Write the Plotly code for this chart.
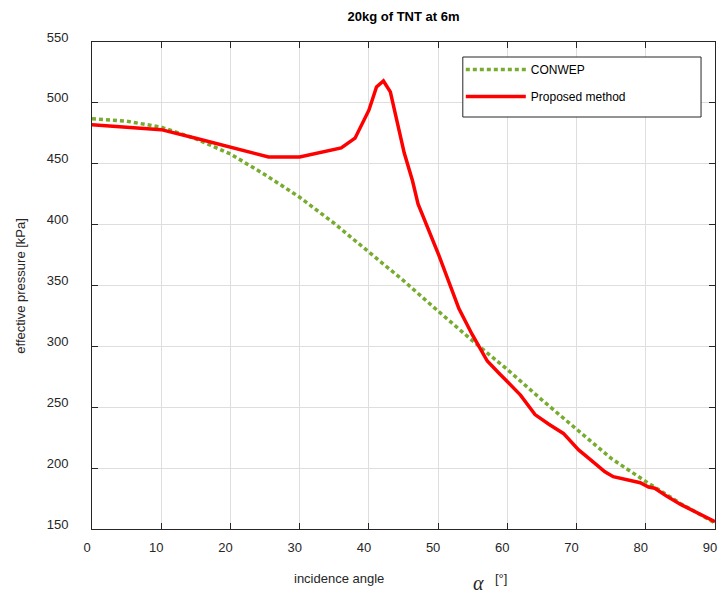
import plotly.graph_objects as go

# CONWEP reference curve
conwep_angle = [0, 5, 10, 15, 20, 25, 30, 35, 40, 45, 50, 55, 60, 65, 70, 75, 80, 85, 90]
conwep_pressure = [487, 485, 480, 470.5, 458, 441, 422.5, 401, 377.5, 354, 329, 304.5,
                   281, 256, 232, 208, 189, 171, 155]

# Proposed method curve
prop_angle = [0, 5, 10, 15, 20, 25.5, 30, 33, 36, 38, 40, 41.1, 42.1, 43.1, 45.1, 46.3,
              47.1, 50.1, 53, 54.9, 57.1, 58.8, 61.9, 64, 66, 68.1, 70.3, 72, 74.1, 75.3,
              79.2, 80.4, 81.3, 83, 85.1, 90]
prop_pressure = [482, 480, 478, 471, 463.5, 455.5, 455.5, 459, 463, 471, 494, 513, 518,
                 509, 459, 436, 417, 375, 331, 310, 288, 278, 260, 244, 236, 228.5, 215,
                 207, 197, 193, 188, 184.5, 183.5, 177, 170, 156]

x_ticks = [0, 10, 20, 30, 40, 50, 60, 70, 80, 90]
y_ticks = [150, 200, 250, 300, 350, 400, 450, 500, 550]

title_text = "20kg of TNT at 6m"
y_label = "effective pressure [kPa]"
x_label = "incidence angle"

W, H = 720, 597
L, R, T, B = 92, 3, 42, 68
PW, PH = W - L - R, H - T - B

def px_to_paper_x(px):
    return (px - L) / PW

def px_to_paper_y(py):
    return (H - B - py) / PH

font_family = "Liberation Sans, Arial, sans-serif"
axis_col = "#262626"

fig = go.Figure()
fig.add_trace(go.Scatter(
    x=conwep_angle, y=conwep_pressure, mode="lines", name="CONWEP",
    line=dict(color="#77AC30", width=3.5, dash="4px,3px"),
    legendgroup="a"))
fig.add_trace(go.Scatter(
    x=prop_angle, y=prop_pressure, mode="lines", name="Proposed method",
    line=dict(color="#FF0000", width=3.5),
    legendgroup="b"))

axis_common = dict(
    showline=True, linecolor=axis_col, linewidth=1, mirror="ticks",
    ticks="inside", ticklen=6, tickcolor=axis_col, tickwidth=1,
    showgrid=True, gridcolor="#dedede", gridwidth=1, zeroline=False,
    tickfont=dict(family=font_family, size=13, color=axis_col),
)

fig.update_xaxes(range=[0, 90], tickvals=x_ticks, ticklabelshift=-5,
                 ticklabelstandoff=6, **axis_common)
fig.update_yaxes(range=[150, 550], tickvals=y_ticks, ticklabelshift=-5,
                 ticklabelstandoff=20, **axis_common)

# white legend box with black border
fig.add_shape(type="rect", xref="paper", yref="paper",
              x0=px_to_paper_x(464), x1=px_to_paper_x(703),
              y0=px_to_paper_y(117), y1=px_to_paper_y(57),
              line=dict(color="#262626", width=1), fillcolor="white", layer="above")

fig.update_layout(
    width=W, height=H,
    margin=dict(l=L, r=R, t=T, b=B),
    paper_bgcolor="white", plot_bgcolor="white",
    font=dict(family=font_family, size=13, color=axis_col),
    title=dict(text="<b>" + title_text + "</b>", x=px_to_paper_x(404.5), xref="paper",
               y=1 - 16 / H, yref="container", xanchor="center", yanchor="middle",
               font=dict(family=font_family, size=13, color="black")),
    legend=dict(x=px_to_paper_x(462), y=px_to_paper_y(55), xanchor="left", yanchor="top",
                bgcolor="rgba(0,0,0,0)", borderwidth=0, itemwidth=60,
                tracegroupgap=8,
                font=dict(family=font_family, size=12, color="black")),
    showlegend=True,
)

fig.add_annotation(text=y_label, xref="paper", yref="paper",
                   x=px_to_paper_x(20), y=px_to_paper_y(285.5), textangle=-90,
                   showarrow=False, xanchor="center", yanchor="middle",
                   font=dict(family=font_family, size=13, color=axis_col))
fig.add_annotation(text=x_label, xref="paper", yref="paper",
                   x=px_to_paper_x(340), y=px_to_paper_y(578),
                   showarrow=False, xanchor="center", yanchor="middle",
                   font=dict(family=font_family, size=13, color=axis_col))
fig.add_annotation(text="<i>α</i>", xref="paper", yref="paper",
                   x=px_to_paper_x(480), y=px_to_paper_y(583),
                   showarrow=False, xanchor="center", yanchor="middle", borderpad=0,
                   font=dict(family="Liberation Serif, serif", size=20, color=axis_col))
fig.add_annotation(text="[°]", xref="paper", yref="paper",
                   x=px_to_paper_x(502), y=px_to_paper_y(578),
                   showarrow=False, xanchor="center", yanchor="middle",
                   font=dict(family=font_family, size=13, color=axis_col))

fig.write_html("out.html",
               config={"displayModeBar": False},
               post_script="document.body.style.margin='0';document.body.style.overflow='hidden';")
